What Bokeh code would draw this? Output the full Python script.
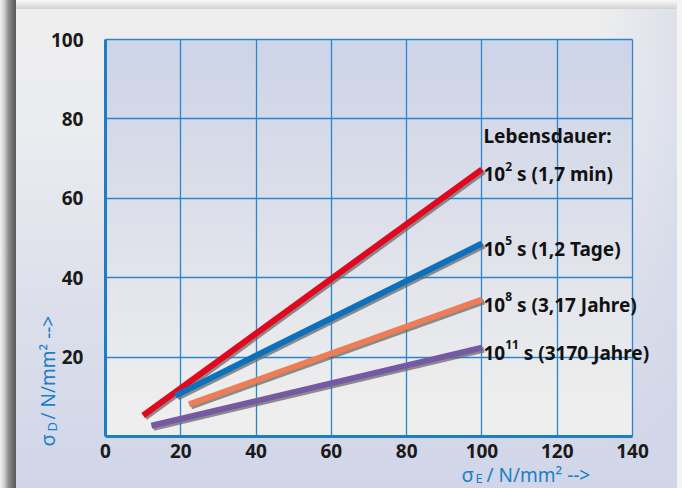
import numpy as np
from bokeh.plotting import figure
from bokeh.models import ColumnDataSource, FixedTicker, Grid, Label, LinearAxis, Range1d
from bokeh.transform import dodge
from bokeh.embed import file_html
from bokeh.resources import INLINE

# Dauerfestigkeit sigma_D über Spannung sigma_E für vier Lebensdauern
exp_labels = ["2", "5", "8", "11"]
duration_labels = ["s (1,7 min)", "s (1,2 Tage)", "s (3,17 Jahre)", "s (3170 Jahre)"]
sigma_e_start = [10.0, 18.6, 22.2, 12.2]
sigma_d_start = [5.3, 10.3, 8.1, 2.7]
sigma_e_end = [100.0, 100.0, 100.0, 100.0]
sigma_d_end = [67.3, 48.6, 34.5, 22.4]
line_colors = ["#e3061f", "#0b71bd", "#ee7d55", "#7559a3"]

x_ticks = [0, 20, 40, 60, 80, 100, 120, 140]
y_ticks = [20, 40, 60, 80, 100]
x_lo, x_hi = 0, 140
y_lo, y_hi = 0, 100

FONT = "Noto Sans"
BLUE = "#1b7fc6"
GRID = "#2a86c9"

W, H = 682, 488
# plot area inside the canvas (pixels): left, right, top, bottom
PL, PR, PT, PB = 105, 632, 39, 436
sx = (PR - PL) / (x_hi - x_lo)
sy = (PB - PT) / (y_hi - y_lo)

# the frame spans the whole canvas; the data box sits inside it
p = figure(
    width=W, height=H,
    x_range=Range1d(x_lo - PL / sx, x_hi + (W - PR) / sx),
    y_range=Range1d(y_lo - (H - PB) / sy, y_hi + PT / sy),
    x_axis_location=None, y_axis_location=None,
    output_backend="svg", toolbar_location=None,
    min_border=0, border_fill_color=None, background_fill_color=None,
    outline_line_color=None,
)
for g in p.grid:
    g.visible = False

# card behind the chart: drop shadow on the left/top, soft grey-to-lavender fill
p.styles = {
    "background-color": "#f4f4f4",
    "background-image": ", ".join([
        "linear-gradient(to bottom, #f8f8f8, #d2d2d2)",
        "linear-gradient(to right, #f2f2f2 0px, #d2d2d2 4px, #8a8a8a 9px, #5c5c5c 15px, #5c5c5c 16px)",
        "linear-gradient(to right, rgba(208,214,232,0) 88%, rgba(208,214,232,0.55) 100%)",
        "linear-gradient(to bottom, #eeeeee 0%, #ebecf0 25%, #dde0eb 60%, #d0d5e8 100%)",
    ]),
    "background-size": "661px 9px, 16px 488px, 661px 479px, 661px 479px",
    "background-position": "16px 0px, 0px 0px, 16px 9px, 16px 9px",
    "background-repeat": "no-repeat",
}

# plot area: lavender at the top fading to light grey at the bottom
rows = 200
t = np.linspace(0.0, 1.0, rows)[:, None] * np.ones((1, 2))
w = np.clip(t * 1.15 - 0.1, 0, 1)
top = np.array([207, 213, 232])
bot = np.array([238, 238, 238])
rgb = (bot[None, None, :] * (1 - w[..., None]) + top[None, None, :] * w[..., None]).astype(np.uint32)
img = (255 << 24) | (rgb[..., 2] << 16) | (rgb[..., 1] << 8) | rgb[..., 0]
bg = p.image_rgba(image=[img.astype(np.uint32)], x=x_lo, y=y_lo,
                  dw=x_hi - x_lo, dh=y_hi - y_lo)
bg.level = "image"

# grid lines, limited to the data box
xgrid = Grid(dimension=0, ticker=FixedTicker(ticks=x_ticks[1:]),
             bounds=(x_lo, x_hi), cross_bounds=(y_lo, y_hi),
             grid_line_color=GRID, grid_line_width=1.3)
ygrid = Grid(dimension=1, ticker=FixedTicker(ticks=y_ticks),
             bounds=(y_lo, y_hi), cross_bounds=(x_lo, x_hi),
             grid_line_color=GRID, grid_line_width=1.3)
p.add_layout(xgrid)
p.add_layout(ygrid)

# axes pinned to the origin of the data box
xaxis = LinearAxis(fixed_location=y_lo, bounds=(x_lo, x_hi),
                   ticker=FixedTicker(ticks=x_ticks), major_label_standoff=1)
yaxis = LinearAxis(fixed_location=x_lo, bounds=(y_lo, y_hi),
                   ticker=FixedTicker(ticks=y_ticks), major_label_standoff=16)
for ax in (xaxis, yaxis):
    ax.axis_line_color = BLUE
    ax.axis_line_width = 3
    ax.major_tick_line_color = None
    ax.minor_tick_line_color = None
    ax.major_label_text_font = FONT
    ax.major_label_text_font_style = "bold"
    ax.major_label_text_font_size = "19px"
    ax.major_label_text_color = "#1a1a1a"
p.add_layout(xaxis, "below")
p.add_layout(yaxis, "left")

src = ColumnDataSource(dict(
    x0=sigma_e_start, y0=sigma_d_start,
    x1=sigma_e_end, y1=sigma_d_end, color=line_colors,
))

# grey drop shadow, shifted right/down, then the coloured lines
p.segment(
    x0=dodge("x0", 0.55, range=p.x_range), y0=dodge("y0", -0.5, range=p.y_range),
    x1=dodge("x1", 0.55, range=p.x_range), y1=dodge("y1", -0.5, range=p.y_range),
    source=src, line_color="#6a6a6a", line_alpha=0.75, line_width=6,
)
p.segment(x0="x0", y0="y0", x1="x1", y1="y1", source=src,
          line_color="color", line_width=6)

# labels at the line ends: "10" + exponent + duration
FS, FS_SUP = 19, 12
DIGIT, SPACE = 0.572, 0.26
text_kw = dict(text_font=FONT, text_font_style="bold", text_color="#111111",
               text_align="left", text_baseline="alphabetic")

for xe, ye, ex, dur in zip(sigma_e_end, sigma_d_end, exp_labels, duration_labels):
    x_sup = 1.5 + 2 * DIGIT * FS
    x_rest = x_sup + len(ex) * DIGIT * FS_SUP + SPACE * FS
    p.add_layout(Label(x=xe, y=ye, text="10", x_offset=1.5, y_offset=-5,
                       text_font_size=f"{FS}px", **text_kw))
    p.add_layout(Label(x=xe, y=ye, text=ex, x_offset=x_sup, y_offset=3,
                       text_font_size=f"{FS_SUP}px", **text_kw))
    p.add_layout(Label(x=xe, y=ye, text=dur, x_offset=x_rest, y_offset=-5,
                       text_font_size=f"{FS}px", **text_kw))

p.add_layout(Label(x=sigma_e_end[0], y=sigma_d_end[0], text="Lebensdauer:",
                   x_offset=1.5, y_offset=33.5, text_font_size=f"{FS}px", **text_kw))

# axis titles with subscripts
TS, TS_SIG, TS_SUB = "19px", "20px", "13px"
title_kw = dict(text_font=FONT, text_color=BLUE, text_align="left",
                text_baseline="alphabetic")

# x title, anchored at the right end of the x axis
p.add_layout(Label(x=x_hi, y=y_lo, text="σ", x_offset=-171, y_offset=-38,
                   text_font_size=TS_SIG, **title_kw))
p.add_layout(Label(x=x_hi, y=y_lo, text="E", x_offset=-157, y_offset=-41,
                   text_font_size=TS_SUB, **title_kw))
p.add_layout(Label(x=x_hi, y=y_lo, text="/ N/mm² -->", x_offset=-146, y_offset=-38,
                   text_font_size=TS, **title_kw))

# y title, rotated, anchored at the origin
p.add_layout(Label(x=x_lo, y=y_lo, text="σ", x_offset=-58, y_offset=-10, angle=np.pi / 2,
                   text_font_size=TS_SIG, **title_kw))
p.add_layout(Label(x=x_lo, y=y_lo, text="D", x_offset=-54, y_offset=5, angle=np.pi / 2,
                   text_font_size=TS_SUB, **title_kw))
p.add_layout(Label(x=x_lo, y=y_lo, text="/ N/mm² -->", x_offset=-58, y_offset=17, angle=np.pi / 2,
                   text_font_size=TS, **title_kw))

open("out.html", "w").write(file_html(p, INLINE))
